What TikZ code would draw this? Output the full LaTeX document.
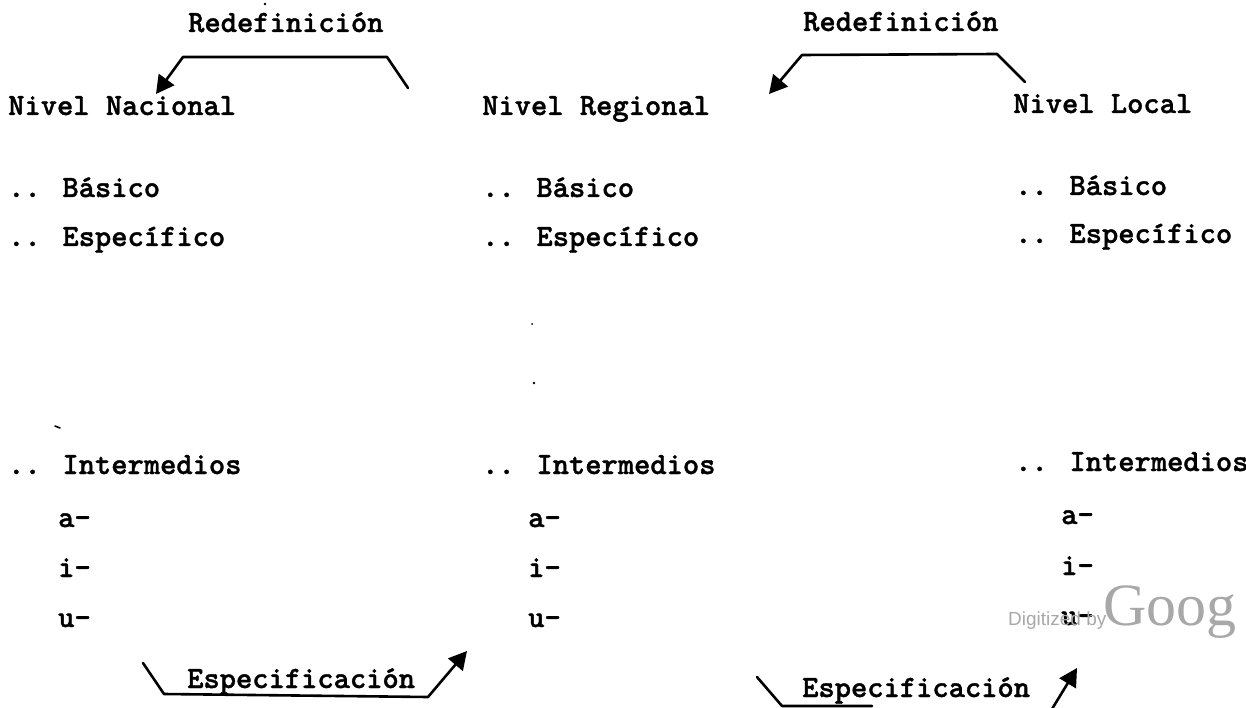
\documentclass[tikz,border=0pt]{standalone}
\usepackage{fontspec}
\usetikzlibrary{arrows.meta}
\newfontfamily\wmsans{Liberation Sans}
\newfontfamily\wmserif{Liberation Serif}
\newfontfamily\twfont{lmmonolt10-bold.otf}[FakeBold=1.2]
\definecolor{wmgray}{HTML}{A8A8A8}
\tikzset{
  tw/.style={anchor=base west, inner sep=0pt,
    font=\twfont\fontsize{31}{31}\selectfont},
  flow/.style={line width=2.6pt, line join=round, line cap=round},
  flowhead/.style={flow, -{Triangle[length=18pt,width=19pt]}},
  speck/.style={fill=black, draw=none},
}
\begin{document}
\begin{tikzpicture}[x=1pt, y=-1pt]
\useasboundingbox (0,0) rectangle (1246,708);

% column headings
\node[tw] (nac) at (8,115) {Nivel Nacional};
\node[tw] (reg) at (482,115) {Nivel Regional};
\node[tw] (loc) at (1013,113) {Nivel Local};

% national column
\node[tw] (nb) at (8,197) {.. Básico};
\node[tw] (ne) at (8,246) {.. Específico};
\node[tw] (ni) at (8,474) {.. Intermedios};
\node[tw] (na) at (58,527) {a-};
\node[tw] (nii) at (58,577) {i-};
\node[tw] (nu) at (58,627) {u-};

% regional column
\node[tw] (rb) at (482,197) {.. Básico};
\node[tw] (re) at (482,246) {.. Específico};
\node[tw] (ri) at (482,474) {.. Intermedios};
\node[tw] (ra) at (528,527) {a-};
\node[tw] (rii) at (528,577) {i-};
\node[tw] (ru) at (528,627) {u-};

% local column
\node[tw] (lb) at (1015,195) {.. Básico};
\node[tw] (le) at (1015,243) {.. Específico};
\node[tw] (li) at (1015,471) {.. Intermedios};
\node[tw] (la) at (1061,524) {a-};
\node[tw] (lii) at (1061,575) {i-};
\node[tw] (lu) at (1061,625) {u-};

% flow labels
\node[tw] (red1) at (188,32) {Redefinición};
\node[tw] (red2) at (803,31) {Redefinición};
\node[tw] (esp1) at (187,688) {Especificación};
\node[tw] (esp2) at (802,697) {Especificación};

% redefinition arrows (upper)
\coordinate (r1a) at (408,88);
\coordinate (r1b) at (387,57);
\coordinate (r1c) at (183,57);
\coordinate (r1d) at (156,94);
\draw[flowhead] (r1a) -- (r1b) -- (r1c) -- (r1d);

\coordinate (r2a) at (1025,82);
\coordinate (r2b) at (997,54);
\coordinate (r2c) at (802,55);
\coordinate (r2d) at (769,94);
\draw[flowhead] (r2a) -- (r2b) -- (r2c) -- (r2d);

% specification arrows (lower)
\coordinate (s1a) at (143,663);
\coordinate (s1b) at (164,694);
\coordinate (s1c) at (428,697);
\coordinate (s1d) at (467,651);
\draw[flowhead] (s1a) -- (s1b) -- (s1c) -- (s1d);

\coordinate (s2a) at (757,677);
\coordinate (s2b) at (782,706);
\coordinate (s2c) at (872,706);
\coordinate (s2e) at (1052,709);
\coordinate (s2d) at (1077,668);
\draw[flow] (s2a) -- (s2b) -- (s2c);
\draw[flowhead] (s2e) -- (s2d);

% small specks
\fill[speck] (265,4) circle (1.3pt);
\fill[speck] (532,324) circle (1pt);
\fill[speck] (534,383) circle (1.3pt);
\draw[line width=1.6pt, line cap=round] (55,426) -- (60,428);

% digitization mark
\node[anchor=base west, inner sep=0pt, text=wmgray, font=\wmsans\fontsize{19}{19}\selectfont] (wm1) at (1008,625) {Digitized by};
\node[anchor=base west, inner sep=0pt, text=wmgray, font=\wmserif\fontsize{60}{60}\selectfont] (wm2) at (1103,625) {Goog};
\end{tikzpicture}
\end{document}
